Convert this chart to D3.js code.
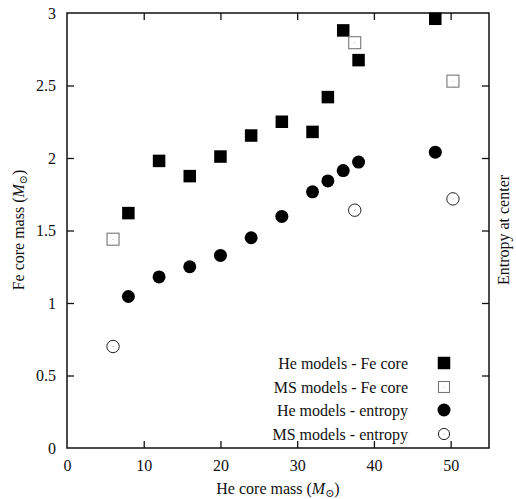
<!DOCTYPE html>
<html><head><meta charset="utf-8">
<script src="https://cdn.jsdelivr.net/npm/d3@7"></script>
<style>body{margin:0;background:#fff}svg text{font-family:"Liberation Serif","Times New Roman","DejaVu Serif",serif !important;fill:#111}</style>
</head><body><svg id="c" width="516" height="499"></svg>
<script>
const heFeX = [8,12,16,20,24,28,32,34,36,38,48];
const heFeY = [1.62,1.98,1.875,2.01,2.155,2.25,2.18,2.42,2.88,2.675,2.96];
const msFeX = [6,37.5,50.3];
const msFeY = [1.44,2.795,2.53];
const heEnX = [8,12,16,20,24,28,32,34,36,38,48];
const heEnY = [1.045,1.18,1.25,1.328,1.45,1.597,1.767,1.842,1.913,1.972,2.04];
const msEnX = [6,37.5,50.3];
const msEnY = [0.70,1.64,1.718];
const xTicks = [0,10,20,30,40,50];
const yTicks = [0,0.5,1,1.5,2,2.5,3];
const legendLabels = ["He models - Fe core","MS models - Fe core","He models - entropy","MS models - entropy"];

const svg = d3.select("#c");
const L=67,R=489,T=13,B=448;
const x = d3.scaleLinear().domain([0,55]).range([L,R]);
const y = d3.scaleLinear().domain([0,3]).range([B,T]);
const fs = 16;
const FF = "Liberation Serif";

svg.append("g").attr("transform",`translate(0,${B})`)
  .call(d3.axisBottom(x).tickValues(xTicks).tickSize(-7).tickPadding(12).tickFormat(d3.format("d")))
  .call(g=>{g.attr("font-family",FF).attr("font-size",fs);g.select(".domain").remove();g.selectAll("text").attr("fill","#111");g.selectAll("line").attr("stroke","#111").attr("stroke-width",1.3);g.selectAll(".tick").filter(d=>d===0).select("line").remove();});
svg.append("g").attr("transform",`translate(0,${T})`)
  .call(d3.axisTop(x).tickValues(xTicks.filter(d=>d>0)).tickSize(-7).tickFormat(""))
  .call(g=>{g.select(".domain").remove();g.selectAll("line").attr("stroke","#111").attr("stroke-width",1.3);});
svg.append("g").attr("transform",`translate(${L},0)`)
  .call(d3.axisLeft(y).tickValues(yTicks).tickSize(-7).tickPadding(11).tickFormat(d=>d))
  .call(g=>{g.attr("font-family",FF).attr("font-size",fs);g.select(".domain").remove();g.selectAll("text").attr("fill","#111");g.selectAll("line").attr("stroke","#111").attr("stroke-width",1.3);g.selectAll(".tick").filter(d=>d===0||d===3).select("line").remove();});
svg.append("g").attr("transform",`translate(${R},0)`)
  .call(d3.axisRight(y).tickValues(yTicks.filter(d=>d>0&&d<3)).tickSize(-7).tickFormat(""))
  .call(g=>{g.select(".domain").remove();g.selectAll("line").attr("stroke","#111").attr("stroke-width",1.3);});
svg.append("rect").attr("x",L).attr("y",T).attr("width",R-L).attr("height",B-T)
  .attr("fill","none").attr("stroke","#111").attr("stroke-width",1.5);

function title(t, tx, ty, rot, sun){
  const el = svg.append("text").attr("font-size",fs).attr("font-family",FF).attr("text-anchor","middle")
    .attr("transform",`translate(${tx},${ty}) rotate(${rot})`);
  el.append("tspan").text(t);
  if(sun){
    el.append("tspan").text(" (");
    el.append("tspan").attr("font-style","italic").text("M");
    el.append("tspan").attr("font-size",11).attr("dy",3).text("⊙");
    el.append("tspan").attr("dy",-3).text(")");
  }
}
title("He core mass", 278, 494, 0, true);
title("Fe core mass", 24, 230, -90, true);
title("Entropy at center", 509, 230, -90, false);

const sq=12.5, rr=6.5, osq=12, orr=6.2;
const plot = svg.append("g");
plot.selectAll(".fs").data(heFeX.map((d,i)=>[d,heFeY[i]])).join("rect")
  .attr("x",d=>x(d[0])-sq/2).attr("y",d=>y(d[1])-sq/2).attr("width",sq).attr("height",sq).attr("fill","#000");
const os = plot.selectAll(".os").data(msFeX.map((d,i)=>[d,msFeY[i]])).join("g");
os.append("rect").attr("x",d=>x(d[0])-osq/2).attr("y",d=>y(d[1])-osq/2).attr("width",osq).attr("height",osq)
  .attr("fill","#fff").attr("stroke","#777").attr("stroke-width",1.1);
os.append("circle").attr("cx",d=>x(d[0])).attr("cy",d=>y(d[1])).attr("r",0.5).attr("fill","#999");
plot.selectAll(".fc").data(heEnX.map((d,i)=>[d,heEnY[i]])).join("circle")
  .attr("cx",d=>x(d[0])).attr("cy",d=>y(d[1])).attr("r",rr).attr("fill","#000");
const oc = plot.selectAll(".oc").data(msEnX.map((d,i)=>[d,msEnY[i]])).join("g");
oc.append("circle").attr("cx",d=>x(d[0])).attr("cy",d=>y(d[1])).attr("r",orr)
  .attr("fill","#fff").attr("stroke","#222").attr("stroke-width",1);
oc.append("circle").attr("cx",d=>x(d[0])).attr("cy",d=>y(d[1])).attr("r",0.5).attr("fill","#777");

const ly = [363,387,410,434];
const lg = svg.append("g");
legendLabels.forEach((t,i)=>{
  lg.append("text").attr("x",408).attr("y",ly[i]).attr("dy","0.35em").attr("text-anchor","end").attr("font-size",fs).attr("font-family",FF).text(t);
});
const lx = 444;
lg.append("rect").attr("x",lx-sq/2).attr("y",ly[0]-sq/2).attr("width",sq).attr("height",sq).attr("fill","#000");
lg.append("rect").attr("x",lx-5.5).attr("y",ly[1]-5.5).attr("width",11).attr("height",11).attr("fill","#fff").attr("stroke","#777").attr("stroke-width",1.1);
lg.append("circle").attr("cx",lx).attr("cy",ly[1]).attr("r",0.5).attr("fill","#999");
lg.append("circle").attr("cx",lx).attr("cy",ly[2]).attr("r",rr).attr("fill","#000");
lg.append("circle").attr("cx",lx).attr("cy",ly[3]).attr("r",5.6).attr("fill","#fff").attr("stroke","#222").attr("stroke-width",1);
lg.append("circle").attr("cx",lx).attr("cy",ly[3]).attr("r",0.5).attr("fill","#777");
</script></body></html>
